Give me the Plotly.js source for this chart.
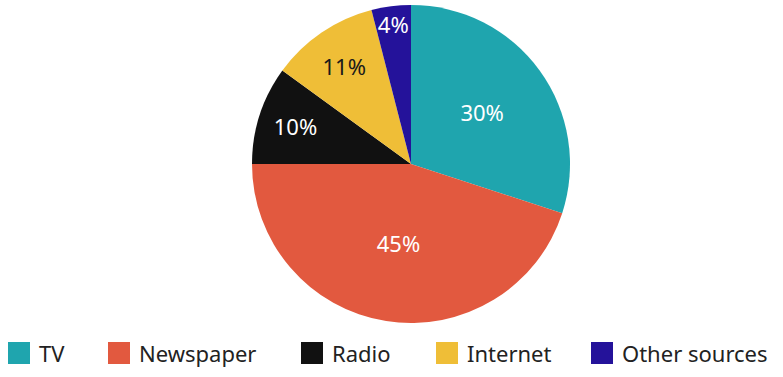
<!DOCTYPE html>
<html>
<head>
<meta charset="utf-8">
<script src="https://cdn.plot.ly/plotly-3.0.1.min.js"></script>
<style>html,body{margin:0;padding:0;background:#fff;}#chart{width:783px;height:377px;}</style>
</head>
<body>
<div id="chart"></div>
<script>
const categories = ["TV", "Newspaper", "Radio", "Internet", "Other sources"];
const values = [30, 45, 10, 11, 4];
const colors = ["#1FA5AE", "#E2593F", "#111111", "#EFBE37", "#24129A"];
const labelColors = ["#ffffff", "#ffffff", "#ffffff", "#1a1a1a", "#ffffff"];

// legend layout (pixel positions of each entry's square)
const legendX = [8, 108, 301, 436, 591];
const W = 783, H = 377;
const sq = 22, legTop = 342;

const shapes = [], annotations = [];
categories.forEach((c, i) => {
  shapes.push({type: "rect", xref: "paper", yref: "paper",
    x0: legendX[i] / W, x1: (legendX[i] + sq) / W,
    y0: 1 - (legTop + sq) / H, y1: 1 - legTop / H,
    fillcolor: colors[i], line: {width: 0}});
  annotations.push({xref: "paper", yref: "paper", x: (legendX[i] + sq + 7) / W,
    y: 1 - (legTop + sq / 2) / H, xanchor: "left", yanchor: "middle",
    text: c, showarrow: false,
    font: {family: "Noto Sans", size: 22, color: "#222222"}});
});

const trace = {
  type: "pie",
  labels: categories,
  values: values,
  sort: false,
  direction: "clockwise",
  rotation: 0,
  marker: {colors: colors, line: {width: 0}},
  texttemplate: "%{value}%",
  textposition: "inside",
  insidetextorientation: "horizontal",
  textfont: {family: "Noto Sans", size: 22, color: labelColors},
  hoverinfo: "label+percent",
  showlegend: false,
  domain: {x: [252 / W, 570 / W], y: [1 - 323 / H, 1 - 5 / H]}
};

const layout = {
  width: W, height: H,
  margin: {l: 0, r: 0, t: 0, b: 0},
  paper_bgcolor: "#ffffff",
  showlegend: false,
  shapes: shapes,
  annotations: annotations,
  uniformtext: {mode: "show", minsize: 22}
};

Plotly.newPlot("chart", [trace], layout, {displayModeBar: false, staticPlot: true});
</script>
</body>
</html>
